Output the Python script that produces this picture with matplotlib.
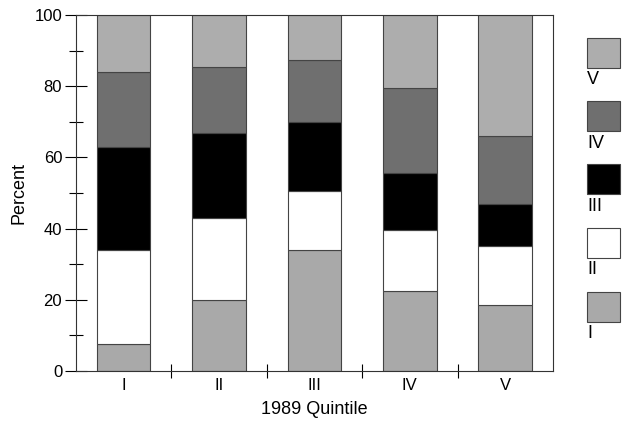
import numpy as np
import matplotlib
matplotlib.use("Agg")
import matplotlib.pyplot as plt
from matplotlib.patches import Rectangle

plt.rcParams['font.family'] = ['Liberation Sans', 'DejaVu Sans']

quintiles = ['I', 'II', 'III', 'IV', 'V']
series = ['I', 'II', 'III', 'IV', 'V']

# share of each later quintile (rows) within each 1989 quintile (columns)
share_I = [7.5, 20, 34, 22.5, 18.5]
share_II = [26.5, 23, 16.5, 17, 16.5]
share_III = [29, 24, 19.5, 16, 12]
share_IV = [21, 18.5, 17.5, 24, 19]
share_V = [16, 14.5, 12.5, 20.5, 34]

colors = ['#a9a9a9', '#ffffff', '#000000', '#6f6f6f', '#adadad']

fig = plt.figure(figsize=(6.24, 4.21), dpi=100)
ax = fig.add_axes([0.122, 0.119, 0.764, 0.845])

x = np.arange(len(quintiles))
bottom = np.zeros(len(quintiles))
for vals, c in zip([share_I, share_II, share_III, share_IV, share_V], colors):
    ax.bar(x, vals, 0.56, bottom=bottom, color=c, edgecolor='#444444', linewidth=0.8)
    bottom += np.array(vals)

ax.set_xlim(-0.5, 4.5)
ax.set_ylim(0, 100)
ax.set_yticks(range(0, 101, 20))
ax.set_yticks(range(10, 100, 20), minor=True)
ax.set_xticks(x)
ax.set_xticklabels(quintiles)
ax.set_xticks(x[:-1] + 0.5, minor=True)

ax.tick_params(axis='y', which='major', direction='inout', length=16, width=0.8, labelsize=12, pad=2)
ax.tick_params(axis='y', which='minor', direction='inout', length=10, width=0.8)
ax.tick_params(axis='x', which='major', length=0, labelsize=12, pad=5)
ax.tick_params(axis='x', which='minor', direction='inout', length=10, width=0.8)
for s in ax.spines.values():
    s.set_linewidth(0.8)
    s.set_color('#333333')

ax.set_ylabel('Percent', fontsize=13, labelpad=5)
ax.set_xlabel('1989 Quintile', fontsize=13, labelpad=6)

# key boxes with labels underneath, top entry first
W, H = 624, 421
box_tops = [38, 101, 164, 228, 292]
for lab, c, top in zip(series[::-1], colors[::-1], box_tops):
    fig.add_artist(Rectangle((587 / W, 1 - (top + 30) / H), 33 / W, 30 / H,
                             transform=fig.transFigure, facecolor=c,
                             edgecolor='#444444', linewidth=0.8))
    fig.text(587 / W, 1 - (top + 42) / H, lab, fontsize=13, ha='left', va='center')

fig.savefig('out.png', dpi=100)
